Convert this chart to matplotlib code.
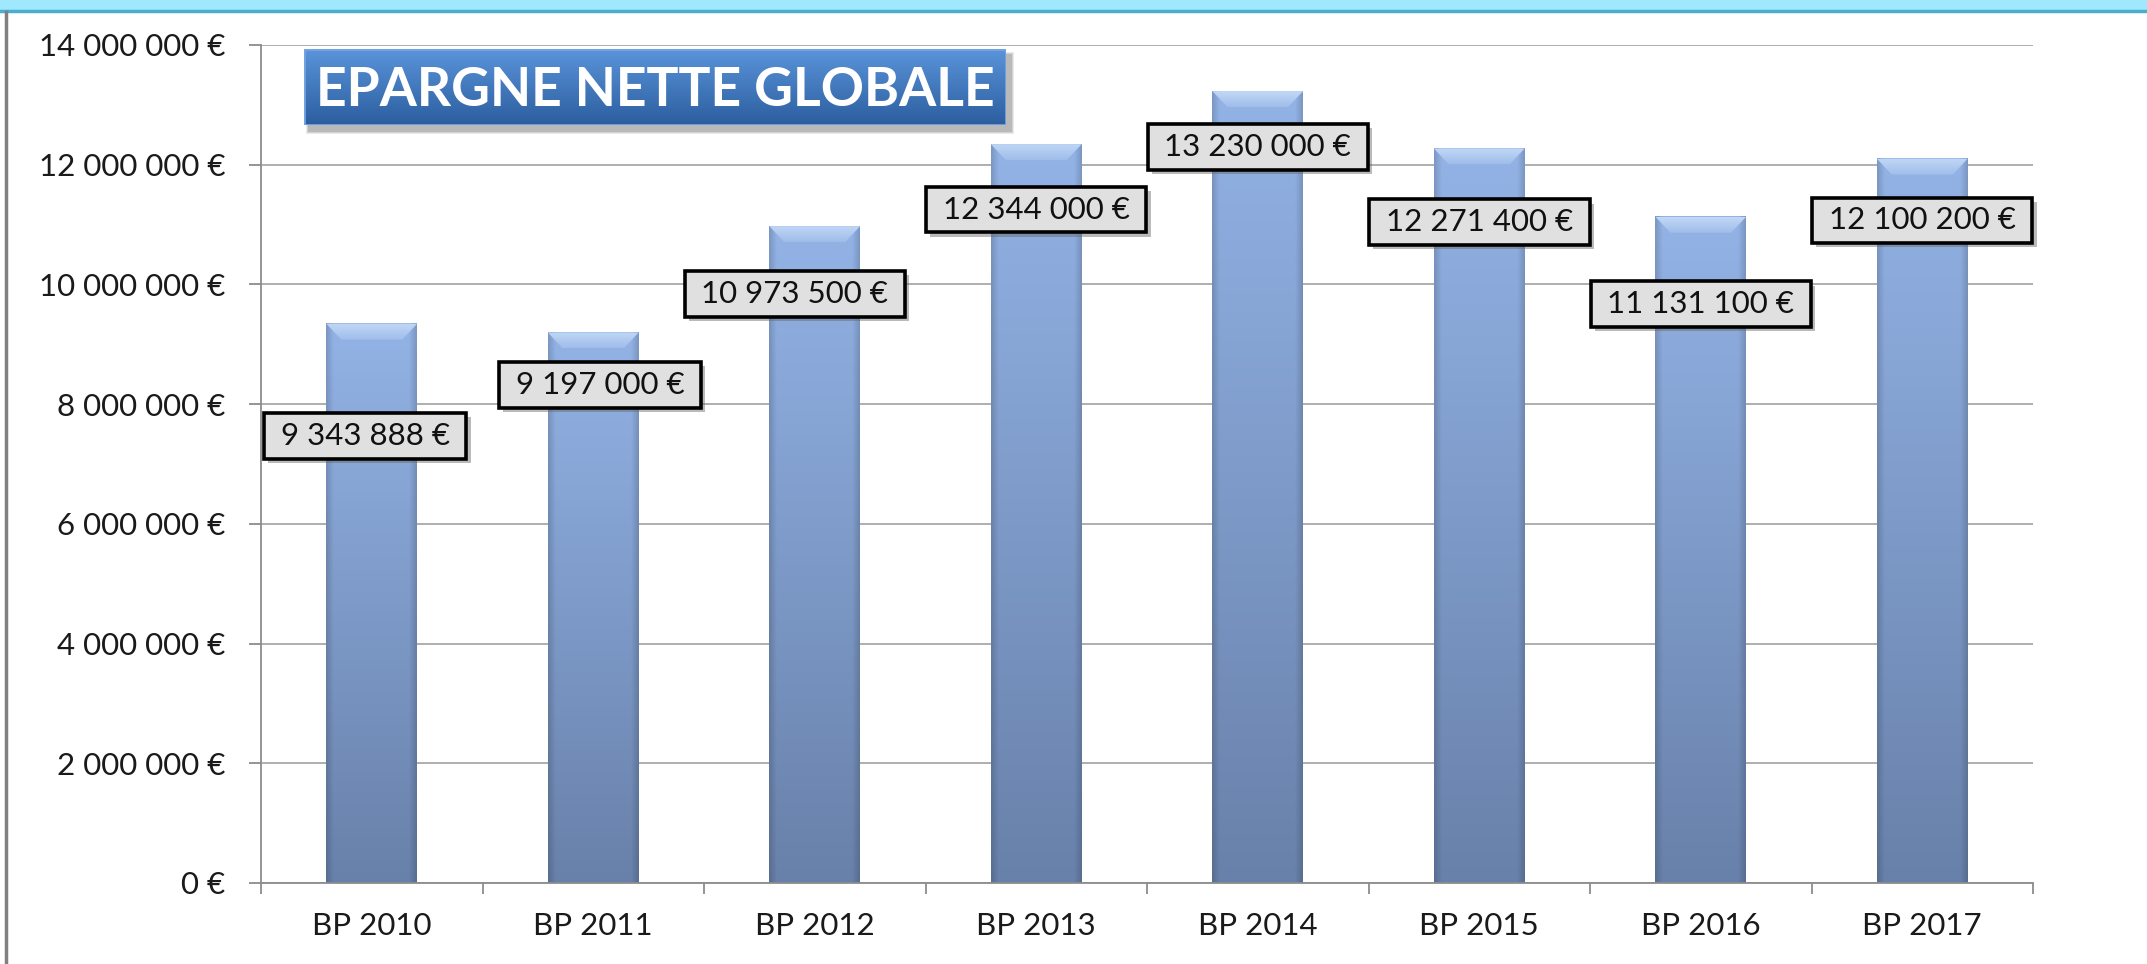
import matplotlib
matplotlib.use('Agg')
import matplotlib.pyplot as plt
import numpy as np
from matplotlib import patheffects
from matplotlib.patches import Polygon, Rectangle
from matplotlib.lines import Line2D
from matplotlib.colors import to_rgb

plt.rcParams['font.family'] = ['Lato', 'DejaVu Sans']

# Chart data
categories = ['BP 2010', 'BP 2011', 'BP 2012', 'BP 2013', 'BP 2014', 'BP 2015', 'BP 2016', 'BP 2017']
epargne = [9343888, 9197000, 10973500, 12344000, 13230000, 12271400, 11131100, 12100200]
y_ticks = [0, 2000000, 4000000, 6000000, 8000000, 10000000, 12000000, 14000000]
title = 'EPARGNE NETTE GLOBALE'

# Where the value boxes sit (y in data units, x shift in category units)
label_y = [7.47e6, 8.32e6, 9.84e6, 11.25e6, 12.30e6, 11.04e6, 9.67e6, 11.07e6]
label_dx = [-0.03, 0.03, -0.09, 0.0, 0.0, 0.0, 0.0, 0.0]


def euro(v):
    return '{:,.0f}'.format(v).replace(',', ' ') + ' €'


# Vertical gradient with darker side edges, shape (n, m, 3)
def gradient(top, bottom, n=256, m=64, edge=0.0, dark=0.0):
    t = np.linspace(0, 1, n)[:, None, None]
    img = np.array(to_rgb(top)) * (1 - t) + np.array(to_rgb(bottom)) * t
    u = np.linspace(0, 1, m)
    side = np.ones(m)
    if edge > 0:
        side = 1 - dark * np.clip(1 - np.minimum(u, 1 - u) / edge, 0, 1)
    return np.clip(img * side[None, :, None], 0, 1)


W, H = 2147, 964
fig = plt.figure(figsize=(W / 100, H / 100), dpi=100)
fig.patch.set_facecolor('white')

ax = fig.add_axes([261 / W, 1 - 883 / H, (2033 - 261) / W, (883 - 45) / H])
x = np.arange(len(categories))
bars = ax.bar(x, epargne, width=0.41, color='#7f9bcb', zorder=2)

# Gradient fill + top bevel on each bar
px_y = 14e6 / 838.0
px_x = 1 / 221.5
bar_img = gradient('#93b3e6', '#6881aa', edge=0.08, dark=0.15)
bevel_img = gradient('#c2d8f6', '#9fbdea', m=2)
for b in bars:
    x0, w, h = b.get_x(), b.get_width(), b.get_height()
    ax.imshow(bar_img, extent=[x0, x0 + w, 0, h], aspect='auto', origin='upper',
              interpolation='bilinear', zorder=2.1)
    dx, dy = 15 * px_x, 16 * px_y
    bevel = Polygon([(x0, h), (x0 + w, h), (x0 + w - dx, h - dy), (x0 + dx, h - dy)],
                    closed=True, fc='none', ec='none', zorder=2.2)
    ax.add_patch(bevel)
    im = ax.imshow(bevel_img, extent=[x0, x0 + w, h - dy, h], aspect='auto', origin='upper',
                   interpolation='bilinear', zorder=2.2)
    im.set_clip_path(bevel)

ax.set_xlim(-0.5, len(categories) - 0.5)
ax.set_ylim(0, 14e6)

# Axes styling
axis_grey = '#8c8c8c'
ax.set_axisbelow(True)
ax.yaxis.grid(True, color='#a8a8a8', lw=1.3)
for s in ['top', 'right']:
    ax.spines[s].set_visible(False)
for s in ['left', 'bottom']:
    ax.spines[s].set_color(axis_grey)
    ax.spines[s].set_linewidth(1.3)

ax.set_yticks(y_ticks)
ax.set_yticklabels([euro(v) for v in y_ticks])
ax.tick_params(axis='y', length=8.6, width=1.3, color=axis_grey, pad=17,
               labelsize=22.5, labelcolor='#1a1a1a')

ax.set_xticks(x)
ax.set_xticklabels(categories)
ax.set_xticks(np.arange(-0.5, len(categories), 1), minor=True)
ax.tick_params(axis='x', which='major', length=0, pad=21, labelsize=22.5, labelcolor='#1a1a1a')
ax.tick_params(axis='x', which='minor', length=8, width=1.3, color=axis_grey)

# Value boxes
for i, v in enumerate(epargne):
    t = ax.text(x[i] + label_dx[i], label_y[i], ' ' + euro(v) + ' ', ha='center', va='center',
                fontsize=22.5, color='#111111', zorder=6,
                bbox=dict(boxstyle='square,pad=0.28', fc='#e0e0e0', ec='black', lw=2.6))
    t.get_bbox_patch().set_path_effects([
        patheffects.withSimplePatchShadow(offset=(3, -3), shadow_rgbFace='#666666', alpha=0.45)])

# Title box with soft shadow
tx, ty, tw, th = 304, 49, 702, 76
for k, a in enumerate([0.12, 0.15, 0.2]):
    grow = 3 - k
    fig.add_artist(Rectangle(((tx + 5 - grow) / W, 1 - (ty + th + 6 + grow) / H),
                             (tw + 2 * grow) / W, (th + 2 * grow) / H,
                             transform=fig.transFigure, fc='#555555', ec='none', alpha=a, zorder=1))
tax = fig.add_axes([tx / W, 1 - (ty + th) / H, tw / W, th / H])
tax.set_zorder(3)
tax.imshow(gradient('#5b94da', '#2b5e9f', m=2), extent=[0, 1, 0, 1], aspect='auto',
           origin='upper', interpolation='bilinear')
tax.set_xlim(0, 1)
tax.set_ylim(0, 1)
tax.axis('off')
tax.add_patch(Rectangle((0, 0), 1, 1, fc='none', ec='#74a3e2', lw=2, transform=tax.transAxes))
tax.text(0.5, 0.46, title, color='white', fontsize=38.5, fontweight='bold',
         ha='center', va='center', transform=tax.transAxes)

# Slide frame: cyan band on top and grey line on the left
fig.add_artist(Rectangle((0, 1 - 10 / H), 1, 10 / H, transform=fig.transFigure,
                         fc='#9fe8fd', ec='none', zorder=5))
fig.add_artist(Line2D([0, 1], [1 - 11 / H, 1 - 11 / H], transform=fig.transFigure,
                      color='#4aaecd', lw=2.5, zorder=5))
fig.add_artist(Line2D([6 / W, 6 / W], [0, 1 - 12 / H], transform=fig.transFigure,
                      color='#808080', lw=2.5, zorder=5))

fig.savefig('out.png', dpi=100)
